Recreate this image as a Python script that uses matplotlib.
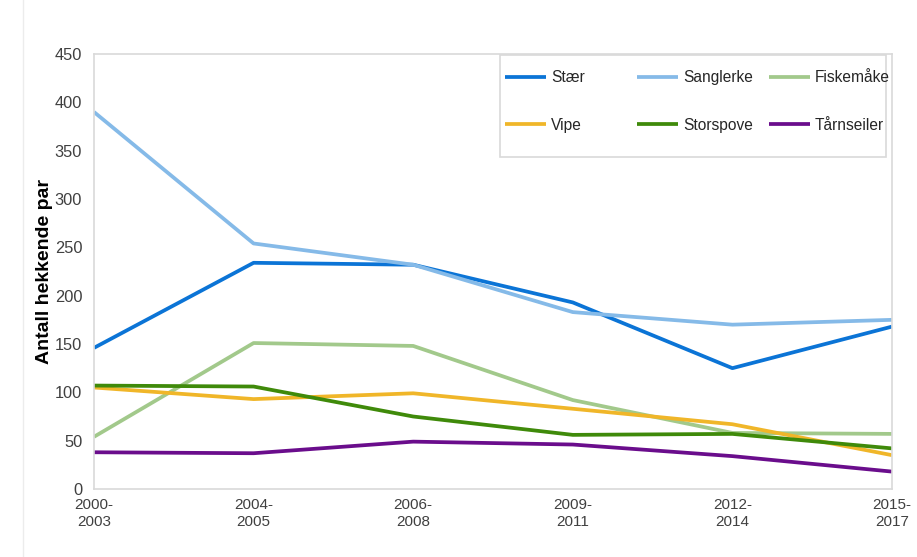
import matplotlib
matplotlib.use("Agg")
import matplotlib.pyplot as plt
from matplotlib.lines import Line2D
from matplotlib.patches import Rectangle

# hekkende par per periode
periods = ["2000-\n2003", "2004-\n2005", "2006-\n2008", "2009-\n2011", "2012-\n2014", "2015-\n2017"]
staer = [146, 234, 232, 193, 125, 168]
sanglerke = [390, 254, 232, 183, 170, 175]
fiskemake = [54, 151, 148, 92, 58, 57]
vipe = [105, 93, 99, 83, 67, 35]
storspove = [107, 106, 75, 56, 57, 42]
tarnseiler = [38, 37, 49, 46, 34, 18]

series = [
    ("Stær", staer, "#0b74d6"),
    ("Sanglerke", sanglerke, "#85bae8"),
    ("Fiskemåke", fiskemake, "#a2c98b"),
    ("Vipe", vipe, "#f0b629"),
    ("Storspove", storspove, "#3f8a0a"),
    ("Tårnseiler", tarnseiler, "#6a0d8c"),
]

plt.rcParams["font.family"] = ["Liberation Sans", "DejaVu Sans"]

W, H = 917, 557
fig = plt.figure(figsize=(W / 100, H / 100), dpi=100)
ax = fig.add_axes([94 / W, (H - 489) / H, (892 - 94) / W, (489 - 54) / H])

xs = range(len(periods))
lines = {}
for name, vals, col in series:
    ln, = ax.plot(xs, vals, color=col, lw=2.7, solid_capstyle="butt", solid_joinstyle="round")
    lines[name] = ln

ax.set_xlim(0, len(periods) - 1)
ax.set_ylim(0, 450)
ax.set_yticks(range(0, 451, 50))
ax.set_xticks(list(xs))
ax.set_xticklabels(periods, family=["Liberation Sans Narrow", "Liberation Sans"],
                   fontsize=11, color="#404040", linespacing=1.3)
ax.tick_params(axis="y", length=0, pad=8.5, labelsize=11.8, labelcolor="#404040")
ax.tick_params(axis="x", length=0, pad=6.5)
for s in ax.spines.values():
    s.set_color("#d9d9d9")
    s.set_linewidth(1.2)

ax.set_ylabel("Antall hekkende par", fontsize=14, fontweight="bold", labelpad=1.5)

# legend: three fixed-width columns inside one frame
cols = [["Stær", "Vipe"], ["Sanglerke", "Storspove"], ["Fiskemåke", "Tårnseiler"]]
col_x = [505, 637, 769]
for names, cx in zip(cols, col_x):
    leg = fig.legend([lines[n] for n in names], names, loc="upper left",
                     bbox_to_anchor=(cx / W, 1 - 70 / H), frameon=False,
                     borderpad=0, borderaxespad=0, handlelength=2.65,
                     handletextpad=0.3, labelspacing=2.1, fontsize=11.2)
    for t in leg.get_texts():
        t.set_color("#262626")
fig.add_artist(Rectangle((500 / W, 1 - 157 / H), 386 / W, 102 / H,
                         transform=fig.transFigure, fill=False,
                         edgecolor="#d9d9d9", lw=1.2))
fig.add_artist(Line2D([23 / W, 23 / W], [0, 1], transform=fig.transFigure,
                      color="#ececec", lw=1))

fig.savefig("out.png", dpi=100)
